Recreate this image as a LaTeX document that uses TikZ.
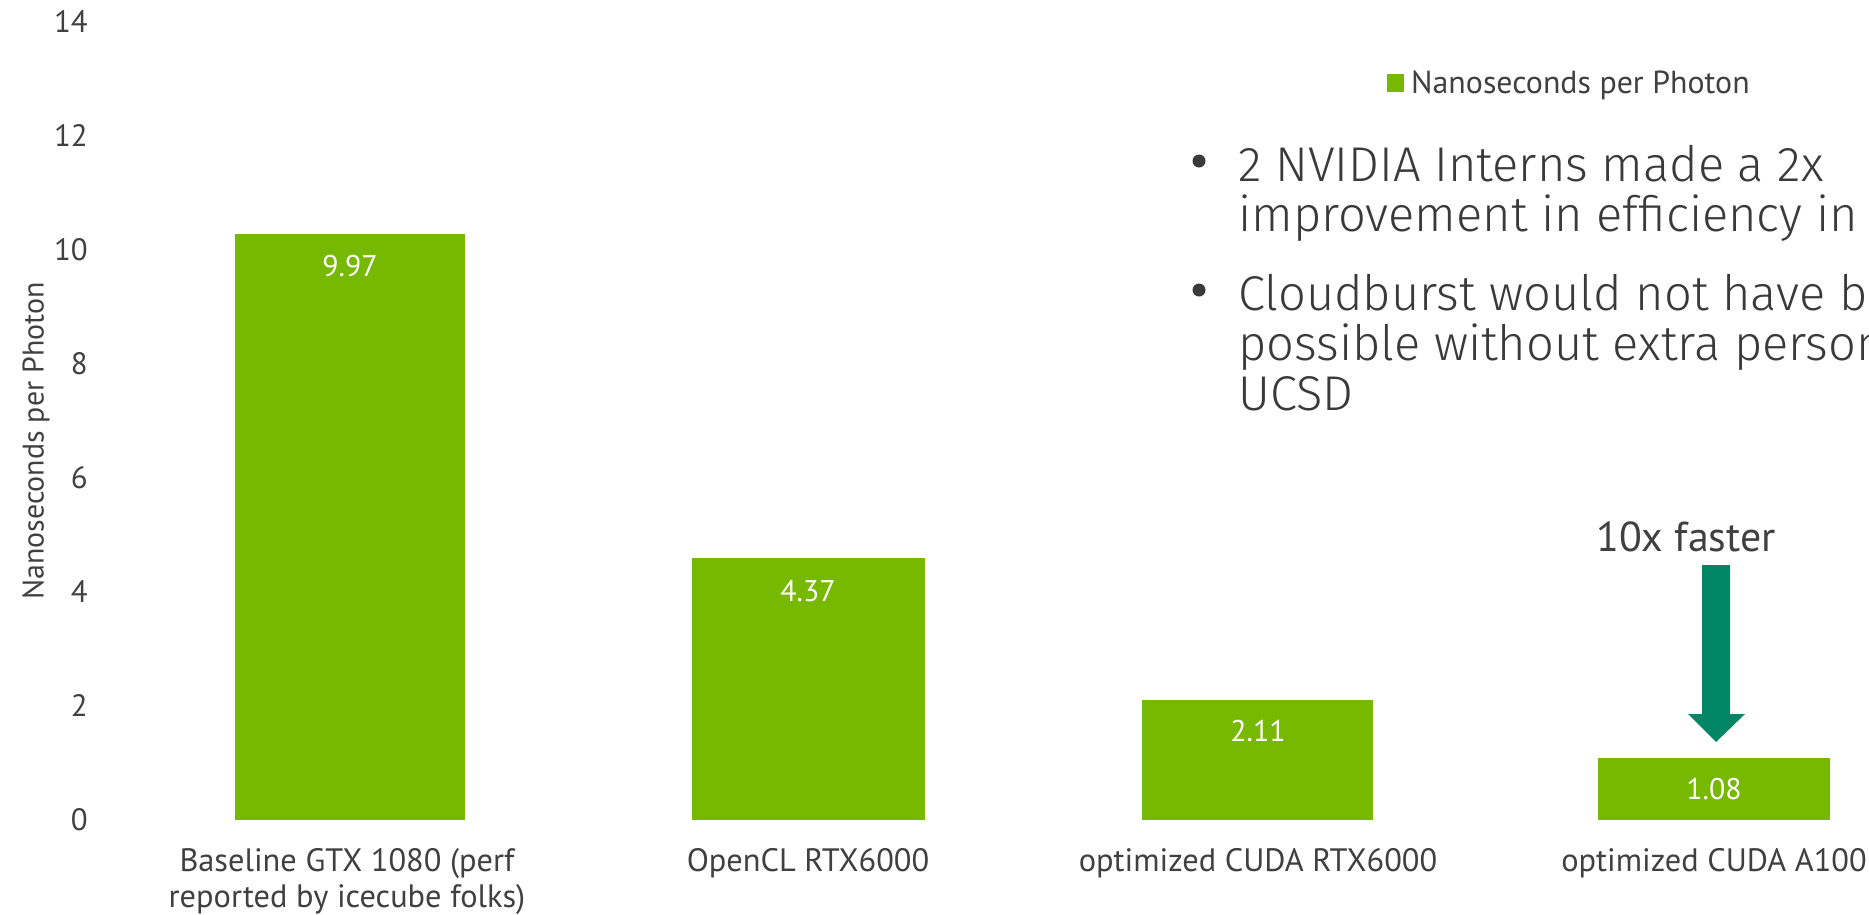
\documentclass[tikz,border=0pt]{standalone}
\usepackage{fontspec}
\setmainfont{PT Sans}
\newfontfamily\thinfont{Fira Sans Light}
\definecolor{nvgreen}{HTML}{76B900}
\definecolor{arrowgreen}{RGB}{0,134,100}
\definecolor{txt}{HTML}{404040}
\definecolor{bultxt}{HTML}{3A3A3A}
\begin{document}
\begin{tikzpicture}[x=1bp,y=-1bp,
  every node/.style={inner sep=0pt, text=txt},
  tick/.style={font=\fontsize{31}{36}\selectfont, anchor=east},
  val/.style={font=\fontsize{30}{36}\selectfont, text=white, anchor=center},
  cat/.style={font=\fontsize{32.5}{36}\selectfont, align=center, anchor=base},
  bar/.style={fill=nvgreen},
  bul/.style={font=\thinfont\fontsize{49}{52}\selectfont, anchor=base west, text=bultxt},
  buldot/.style={circle, fill=bultxt, minimum size=13bp},
]
\useasboundingbox (0,0) rectangle (1869,915);
\clip (0,0) rectangle (1869,915);
\fill[white] (0,0) rectangle (1869,915);

% axis ticks
\foreach \v in {0,2,...,14}
  \node[tick] (t\v) at (88,{820-57.07*\v}) {\v};

% axis title
\node[rotate=90, font=\fontsize{30}{36}\selectfont, anchor=center] (ytitle) at (36,441) {Nanoseconds per Photon};

% bars
\fill[bar] (235,234) rectangle (465,820);
\fill[bar] (692,558) rectangle (925,820);
\fill[bar] (1142,700) rectangle (1373,820);
\fill[bar] (1598,758) rectangle (1830,820);

% values
\node[val] (v1) at (350,266) {9.97};
\node[val] (v2) at (808,591) {4.37};
\node[val] (v3) at (1258,731) {2.11};
\node[val] (v4) at (1714,789) {1.08};

% categories
\node[cat] (c1) at (347,907) {Baseline GTX 1080 (perf\\reported by icecube folks)};
\node[cat] (c2) at (808,871) {OpenCL RTX6000};
\node[cat] (c3) at (1258,871) {optimized CUDA RTX6000};
\node[cat] (c4) at (1714,871) {optimized CUDA A100};

% legend
\fill[nvgreen] (1387,74) rectangle (1404,92);
\node[font=\fontsize{32}{36}\selectfont, anchor=base west] (leg) at (1411,93) {Nanoseconds per Photon};

% bullets
\node[buldot] (d1) at (1199,161) {};
\node[bul] (b1a) at (1238,181) {2 NVIDIA Interns made a 2x};
\node[bul] (b1b) at (1238,231) {improvement in efficiency in 1};
\node[buldot] (d2) at (1199,290) {};
\node[bul] (b2a) at (1238,310) {Cloudburst would not have be};
\node[bul] (b2b) at (1238,360) {possible without extra person};
\node[bul] (b2c) at (1238,410) {UCSD};

% 10x faster arrow
\node[font=\fontsize{42}{50}\selectfont, anchor=base] (fast) at (1686,551) {10x faster};
\fill[arrowgreen] (1702,565) -- (1730,565) -- (1730,714) -- (1745,714) -- (1716,742) -- (1688,714) -- (1702,714) -- cycle;
\end{tikzpicture}
\end{document}
